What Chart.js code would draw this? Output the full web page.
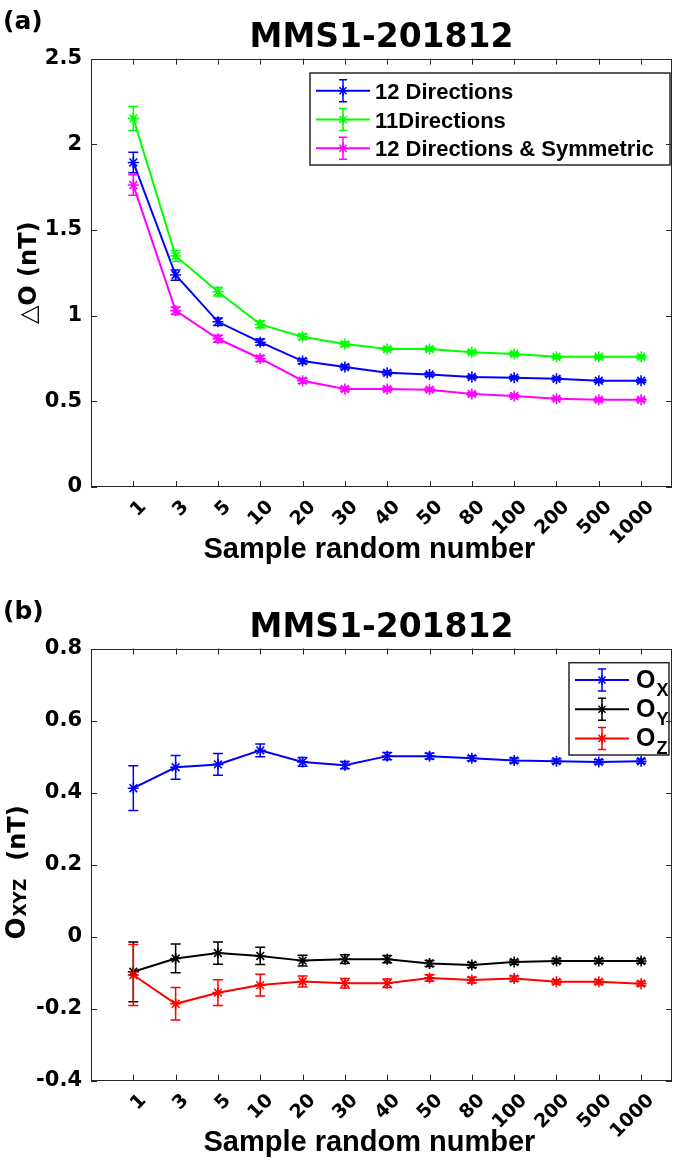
<!DOCTYPE html>
<html>
<head>
<meta charset="utf-8">
<script src="https://cdn.jsdelivr.net/npm/chart.js@4.4.1/dist/chart.umd.min.js"></script>
<style>
  body { margin: 0; background: #fff; width: 685px; height: 1162px; position: relative; overflow: hidden; }
  .panel { position: absolute; left: 0; width: 685px; height: 581px; }
  .tag { position: absolute; left: 3px; font: bold 25px "DejaVu Sans", sans-serif; line-height: 25px; color: #000; }
</style>
</head>
<body>
<div class="panel" style="top:0"><canvas id="chartA"></canvas></div>
<div class="panel" style="top:581px"><canvas id="chartB"></canvas></div>
<div class="tag" style="top:8px">(a)</div>
<div class="tag" style="top:598px">(b)</div>
<script>
// sample counts on the x axis
const sampleLabels = ['1', '3', '5', '10', '20', '30', '40', '50', '80', '100', '200', '500', '1000'];

// panel (a): ΔO vs sample random number
const dir12 = [1.894, 1.237, 0.964, 0.845, 0.735, 0.700, 0.667, 0.657, 0.642, 0.638, 0.632, 0.620, 0.620];
const dir12Err = [0.060, 0.030, 0.022, 0.018, 0.014, 0.012, 0.010, 0.010, 0.009, 0.009, 0.008, 0.008, 0.008];
const dir11 = [2.151, 1.348, 1.139, 0.949, 0.877, 0.834, 0.805, 0.805, 0.786, 0.776, 0.760, 0.760, 0.760];
const dir11Err = [0.070, 0.032, 0.025, 0.020, 0.015, 0.012, 0.010, 0.010, 0.009, 0.009, 0.008, 0.008, 0.008];
const dirSym = [1.762, 1.029, 0.865, 0.750, 0.620, 0.572, 0.572, 0.568, 0.543, 0.531, 0.515, 0.509, 0.509];
const dirSymErr = [0.060, 0.022, 0.020, 0.018, 0.014, 0.012, 0.010, 0.010, 0.009, 0.009, 0.008, 0.008, 0.008];
const yTicksA = [0, 0.5, 1, 1.5, 2, 2.5];
const yLabelsA = ['0', '0.5', '1', '1.5', '2', '2.5'];

// panel (b): O components
const ox = [0.412, 0.470, 0.478, 0.517, 0.485, 0.476, 0.501, 0.501, 0.495, 0.489, 0.487, 0.485, 0.487];
const oxErr = [0.062, 0.033, 0.030, 0.018, 0.012, 0.010, 0.010, 0.008, 0.007, 0.007, 0.006, 0.006, 0.006];
const oy = [-0.098, -0.061, -0.046, -0.054, -0.067, -0.063, -0.063, -0.075, -0.079, -0.071, -0.068, -0.068, -0.068];
const oyErr = [0.083, 0.040, 0.031, 0.024, 0.015, 0.012, 0.010, 0.008, 0.007, 0.006, 0.006, 0.006, 0.006];
const oz = [-0.107, -0.187, -0.156, -0.135, -0.125, -0.130, -0.130, -0.115, -0.121, -0.117, -0.126, -0.126, -0.131];
const ozErr = [0.085, 0.045, 0.036, 0.030, 0.015, 0.013, 0.012, 0.009, 0.008, 0.007, 0.006, 0.006, 0.006];
const yTicksB = [-0.4, -0.2, 0, 0.2, 0.4, 0.6, 0.8];
const yLabelsB = ['-0.4', '-0.2', '0', '0.2', '0.4', '0.6', '0.8'];

const FONT_D = '"DejaVu Sans", sans-serif';
const FONT_L = '"Liberation Sans", Arial, sans-serif';
const AXIS_COLOR = '#262626';

function toPoints(values) {
  return values.map((v, i) => ({ x: i + 1, y: v }));
}

function makeSeries(label, sub, values, errors, color, order) {
  return {
    label: label,
    sub: sub,
    data: toPoints(values),
    errors: errors,
    borderColor: color,
    backgroundColor: color,
    pointBorderColor: color,
    borderWidth: 2,
    pointStyle: 'star',
    pointRadius: 5.5,
    pointBorderWidth: 1.6,
    tension: 0,
    order: order,
  };
}

// vertical error bars with caps
const errorBarPlugin = {
  id: 'errorBars',
  afterDatasetsDraw(chart) {
    const { ctx, scales: { y } } = chart;
    chart.data.datasets.forEach((ds, i) => {
      const meta = chart.getDatasetMeta(i);
      ctx.save();
      ctx.strokeStyle = ds.borderColor;
      ctx.lineWidth = 1.5;
      meta.data.forEach((pt, j) => {
        const v = ds.data[j].y;
        const e = ds.errors[j];
        const top = y.getPixelForValue(v + e);
        const bot = y.getPixelForValue(v - e);
        ctx.beginPath();
        ctx.moveTo(pt.x, top); ctx.lineTo(pt.x, bot);
        ctx.moveTo(pt.x - 5, top); ctx.lineTo(pt.x + 5, top);
        ctx.moveTo(pt.x - 5, bot); ctx.lineTo(pt.x + 5, bot);
        ctx.stroke();
      });
      ctx.restore();
    });
  }
};

// box around the axes with inward ticks on all four sides
const frameTicksPlugin = {
  id: 'frameTicks',
  afterDraw(chart) {
    const { ctx, chartArea: a, scales: { x, y } } = chart;
    ctx.save();
    ctx.strokeStyle = AXIS_COLOR;
    ctx.lineWidth = 1;
    ctx.beginPath();
    x.ticks.forEach(t => {
      const px = Math.round(x.getPixelForValue(t.value)) + 0.5;
      ctx.moveTo(px, a.bottom); ctx.lineTo(px, a.bottom - 6);
      ctx.moveTo(px, a.top); ctx.lineTo(px, a.top + 6);
    });
    y.ticks.forEach(t => {
      const py = Math.round(y.getPixelForValue(t.value)) + 0.5;
      ctx.moveTo(a.left, py); ctx.lineTo(a.left + 6, py);
      ctx.moveTo(a.right, py); ctx.lineTo(a.right - 6, py);
    });
    ctx.stroke();
    ctx.strokeRect(Math.round(a.left) + 0.5, Math.round(a.top) + 0.5,
      Math.round(a.width) - 1, Math.round(a.height) - 1);
    ctx.restore();
  }
};

// rotated y title built from parts (allows subscripts)
function makeYTitlePlugin(cfg) {
  return {
    id: 'yTitle',
    afterDraw(chart) {
      const { ctx, chartArea: a } = chart;
      ctx.save();
      ctx.translate(cfg.x, (a.top + a.bottom) / 2 + cfg.dy);
      ctx.rotate(-Math.PI / 2);
      ctx.fillStyle = '#000';
      ctx.textBaseline = 'alphabetic';
      const widths = cfg.parts.map(p => {
        ctx.font = p.font;
        return ctx.measureText(p.text).width + (p.gap || 0);
      });
      let px = -widths.reduce((s, w) => s + w, 0) / 2;
      cfg.parts.forEach((p, i) => {
        ctx.font = p.font;
        ctx.fillText(p.text, px, p.lift || 0);
        px += widths[i];
      });
      ctx.restore();
    }
  };
}

// MATLAB-like legend with error bar glyphs
function makeLegendPlugin(cfg) {
  return {
    id: 'legendBox',
    afterDatasetsDraw(chart) {
      const { ctx } = chart;
      const b = cfg.box;
      ctx.save();
      ctx.fillStyle = '#fff';
      ctx.fillRect(b.x, b.y, b.w, b.h);
      ctx.strokeStyle = AXIS_COLOR;
      ctx.lineWidth = 1.5;
      ctx.strokeRect(b.x, b.y, b.w, b.h);
      chart.data.datasets.forEach((ds, i) => {
        const cy = b.y + cfg.firstRow + i * cfg.rowGap;
        const mx = (cfg.lineFrom + cfg.lineTo) / 2;
        ctx.strokeStyle = ds.borderColor;
        ctx.lineWidth = 2;
        ctx.beginPath();
        ctx.moveTo(cfg.lineFrom, cy); ctx.lineTo(cfg.lineTo, cy);
        ctx.stroke();
        ctx.lineWidth = 1.5;
        ctx.beginPath();
        ctx.moveTo(mx, cy - 11); ctx.lineTo(mx, cy + 11);
        ctx.moveTo(mx - 4, cy - 11); ctx.lineTo(mx + 4, cy - 11);
        ctx.moveTo(mx - 4, cy + 11); ctx.lineTo(mx + 4, cy + 11);
        ctx.stroke();
        Chart.helpers.drawPoint(ctx, { pointStyle: 'star', radius: 5, borderWidth: 1.5, rotation: 0 }, mx, cy);
        ctx.fillStyle = '#000';
        ctx.textBaseline = 'alphabetic';
        ctx.font = cfg.font;
        ctx.fillText(ds.label, cfg.textX, cy + cfg.baseShift);
        if (ds.sub) {
          const w = ctx.measureText(ds.label).width;
          ctx.font = cfg.subFont;
          ctx.fillText(ds.sub, cfg.textX + w + 1, cy + cfg.baseShift + cfg.subShift);
        }
      });
      ctx.restore();
    }
  };
}

function buildPanel(canvasId, p) {
  return new Chart(document.getElementById(canvasId), {
    type: 'line',
    data: { datasets: p.datasets },
    options: {
      responsive: true,
      maintainAspectRatio: false,
      animation: false,
      layout: { padding: { left: 0, right: 13, top: 0, bottom: 0 } },
      plugins: {
        legend: { display: false },
        tooltip: { enabled: false },
        title: {
          display: true,
          text: 'MMS1-201812',
          fullSize: false,
          color: '#000',
          font: { family: FONT_D, size: 33, weight: 'bold', lineHeight: 1.1 },
          padding: { top: p.titleTop, bottom: 2 },
        },
      },
      scales: {
        x: {
          type: 'linear',
          min: 0,
          max: 13.73,
          grid: { display: false, drawTicks: false },
          border: { display: false },
          afterBuildTicks: s => { s.ticks = sampleLabels.map((_, i) => ({ value: i + 1 })); },
          afterFit: s => { s.height = p.xHeight; },
          ticks: {
            autoSkip: false,
            minRotation: 45,
            maxRotation: 45,
            padding: 9,
            labelOffset: 10,
            color: '#000',
            font: { family: FONT_D, size: 19, weight: 'bold' },
            callback: (v, i) => sampleLabels[i],
          },
          title: {
            display: true,
            text: 'Sample random number   ',
            color: '#000',
            font: { family: FONT_L, size: 29, weight: 'bold', lineHeight: 1.2 },
            padding: { top: 0, bottom: p.xTitleBottom },
          },
        },
        y: {
          min: p.yTicks[0],
          max: p.yTicks[p.yTicks.length - 1],
          grid: { display: false, drawTicks: false },
          border: { display: false },
          afterBuildTicks: s => { s.ticks = p.yTicks.map(v => ({ value: v })); },
          afterFit: s => { s.width = 91; },
          ticks: {
            padding: 9,
            color: '#000',
            font: { family: FONT_D, size: 21, weight: 'bold' },
            callback: (v, i) => p.yLabels[i],
          },
        },
      },
    },
    plugins: [errorBarPlugin, makeLegendPlugin(p.legend), frameTicksPlugin, makeYTitlePlugin(p.yTitle)],
  });
}

buildPanel('chartA', {
  datasets: [
    makeSeries('12 Directions', null, dir12, dir12Err, '#0000ff', 3),
    makeSeries('11Directions', null, dir11, dir11Err, '#00ff00', 2),
    makeSeries('12 Directions & Symmetric', null, dirSym, dirSymErr, '#ff00ff', 1),
  ],
  yTicks: yTicksA,
  yLabels: yLabelsA,
  titleTop: 20.3,
  xHeight: 94,
  xTitleBottom: 14,
  yTitle: {
    x: 36,
    dy: 0,
    parts: [
      { text: '\u25B3', font: '24px ' + FONT_D },
      { text: 'O (nT)', font: 'bold 24px ' + FONT_D },
    ],
  },
  legend: {
    box: { x: 310, y: 73, w: 360, h: 92 },
    firstRow: 17.7,
    rowGap: 28.8,
    lineFrom: 316,
    lineTo: 370,
    textX: 375,
    baseShift: 8,
    subShift: 0,
    font: 'bold 22px ' + FONT_L,
    subFont: 'bold 16px ' + FONT_L,
  },
});

buildPanel('chartB', {
  datasets: [
    makeSeries('O', 'X', ox, oxErr, '#0000ff', 3),
    makeSeries('O', 'Y', oy, oyErr, '#000000', 2),
    makeSeries('O', 'Z', oz, ozErr, '#ff0000', 1),
  ],
  yTicks: yTicksB,
  yLabels: yLabelsB,
  titleTop: 29.2,
  xHeight: 81.5,
  xTitleBottom: 2,
  yTitle: {
    x: 25,
    dy: 8,
    parts: [
      { text: 'O', font: 'bold 26px ' + FONT_D, gap: 1 },
      { text: 'XYZ', font: 'bold 17px ' + FONT_D, lift: 1, gap: 18 },
      { text: '(nT)', font: 'bold 24px ' + FONT_D },
    ],
  },
  legend: {
    box: { x: 569, y: 81.7, w: 100, h: 92.3 },
    firstRow: 17.3,
    rowGap: 29.2,
    lineFrom: 575,
    lineTo: 629,
    textX: 636,
    baseShift: 8,
    subShift: 8,
    font: 'bold 25px ' + FONT_L,
    subFont: 'bold 18px ' + FONT_L,
  },
});
</script>
</body>
</html>
